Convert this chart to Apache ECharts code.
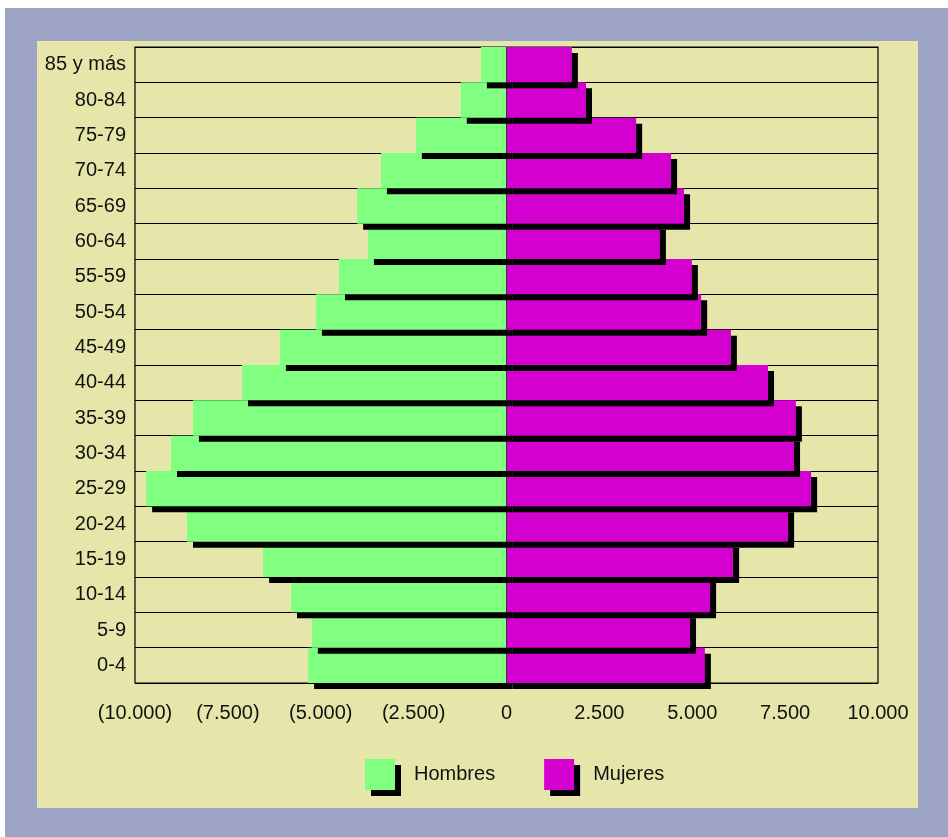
<!DOCTYPE html>
<html>
<head>
<meta charset="utf-8">
<script src="https://cdn.jsdelivr.net/npm/echarts@6/dist/echarts.min.js"></script>
<style>
  html, body { margin: 0; padding: 0; background: #ffffff; width: 948px; height: 837px; overflow: hidden; }
  #outer { position: absolute; left: 5px; top: 8px; width: 943px; height: 829px; background: #9ca3c5; }
  #chart { position: absolute; left: 37px; top: 41px; width: 881px; height: 767px; background: #e6e6aa; }
</style>
</head>
<body>
<div id="outer"></div>
<div id="chart"></div>
<script>
const categories = ['0-4', '5-9', '10-14', '15-19', '20-24', '25-29', '30-34', '35-39', '40-44',
  '45-49', '50-54', '55-59', '60-64', '65-69', '70-74', '75-79', '80-84', '85 y más'];
const hombres = [5340, 5240, 5800, 6550, 8600, 9700, 9030, 8440, 7120, 6100, 5130, 4510, 3730, 4020, 3380, 2440, 1230, 690];
const mujeres = [5340, 4940, 5480, 6100, 7580, 8200, 7740, 7790, 7040, 6040, 5240, 4990, 4130, 4780, 4430, 3490, 2140, 1760];
const seriesNames = ['Hombres', 'Mujeres'];
const xTicks = [-10000, -7500, -5000, -2500, 0, 2500, 5000, 7500, 10000];
const xTickLabels = ['(10.000)', '(7.500)', '(5.000)', '(2.500)', '0', '2.500', '5.000', '7.500', '10.000'];

const GREEN = '#80ff80';
const MAGENTA = '#d400d0';
const SH = 6;
const FONT = "'Liberation Sans', Arial, sans-serif";

const chart = echarts.init(document.getElementById('chart'), null, { renderer: 'canvas' });

const rows = categories.map((c, i) => [i, hombres[i], mujeres[i]]);

function renderItem(params, api) {
  const idx = api.value(0);
  const m = api.value(1);
  const f = api.value(2);
  const c0 = api.coord([0, idx]);
  const cl = api.coord([-m, idx]);
  const cr = api.coord([f, idx]);
  const h = api.size([0, 1])[1];
  const top = c0[1] - h / 2;
  const x0 = c0[0];
  return {
    type: 'group',
    children: [
      { type: 'rect', shape: { x: cl[0] + SH, y: top + SH, width: x0 - cl[0], height: h }, style: { fill: '#000' } },
      { type: 'rect', shape: { x: x0 + SH, y: top + SH, width: cr[0] - x0, height: h }, style: { fill: '#000' } },
      { type: 'rect', shape: { x: cl[0], y: top, width: x0 - cl[0], height: h }, style: { fill: GREEN } },
      { type: 'rect', shape: { x: x0, y: top, width: cr[0] - x0, height: h }, style: { fill: MAGENTA } },
      { type: 'line', shape: { x1: x0, y1: top, x2: x0, y2: top + h }, style: { stroke: '#333', lineWidth: 1 } }
    ]
  };
}

const option = {
  animation: false,
  textStyle: { fontFamily: FONT },
  grid: {
    left: 98, top: 6, right: 40, bottom: 125,
    show: true, borderColor: '#000', borderWidth: 1.2, backgroundColor: 'transparent'
  },
  xAxis: {
    type: 'value', min: -10000, max: 10000, interval: 2500,
    axisLine: { show: false }, axisTick: { show: false }, splitLine: { show: false },
    axisLabel: {
      margin: 20, fontSize: 20, color: '#111', fontFamily: FONT,
      formatter: v => { const k = xTicks.indexOf(v); return k >= 0 ? xTickLabels[k] : ''; }
    }
  },
  yAxis: {
    type: 'category', data: categories, boundaryGap: true,
    axisLine: { show: false }, axisTick: { show: false },
    splitLine: { show: true, interval: 0, lineStyle: { color: '#000', width: 1.2 } },
    axisLabel: { margin: 9, fontSize: 20, color: '#111', fontFamily: FONT, interval: 0 }
  },
  legend: {
    left: 328, top: 718, padding: 0,
    itemWidth: 30, itemHeight: 31, itemGap: 49,
    icon: 'rect',
    data: seriesNames,
    textStyle: { fontSize: 20, color: '#111', fontFamily: FONT, padding: [0, 0, 0, 14] },
    itemStyle: { shadowColor: '#000', shadowBlur: 0, shadowOffsetX: SH, shadowOffsetY: SH }
  },
  series: [
    {
      type: 'custom', name: 'pyramid', renderItem: renderItem, data: rows,
      encode: { y: 0, x: [1, 2] }, clip: false, z: 3, silent: true
    },
    { type: 'bar', name: seriesNames[0], data: [], itemStyle: { color: GREEN, shadowColor: '#000', shadowBlur: 0, shadowOffsetX: SH, shadowOffsetY: SH } },
    { type: 'bar', name: seriesNames[1], data: [], itemStyle: { color: MAGENTA, shadowColor: '#000', shadowBlur: 0, shadowOffsetX: SH, shadowOffsetY: SH } }
  ]
};
chart.setOption(option);
</script>
</body>
</html>
